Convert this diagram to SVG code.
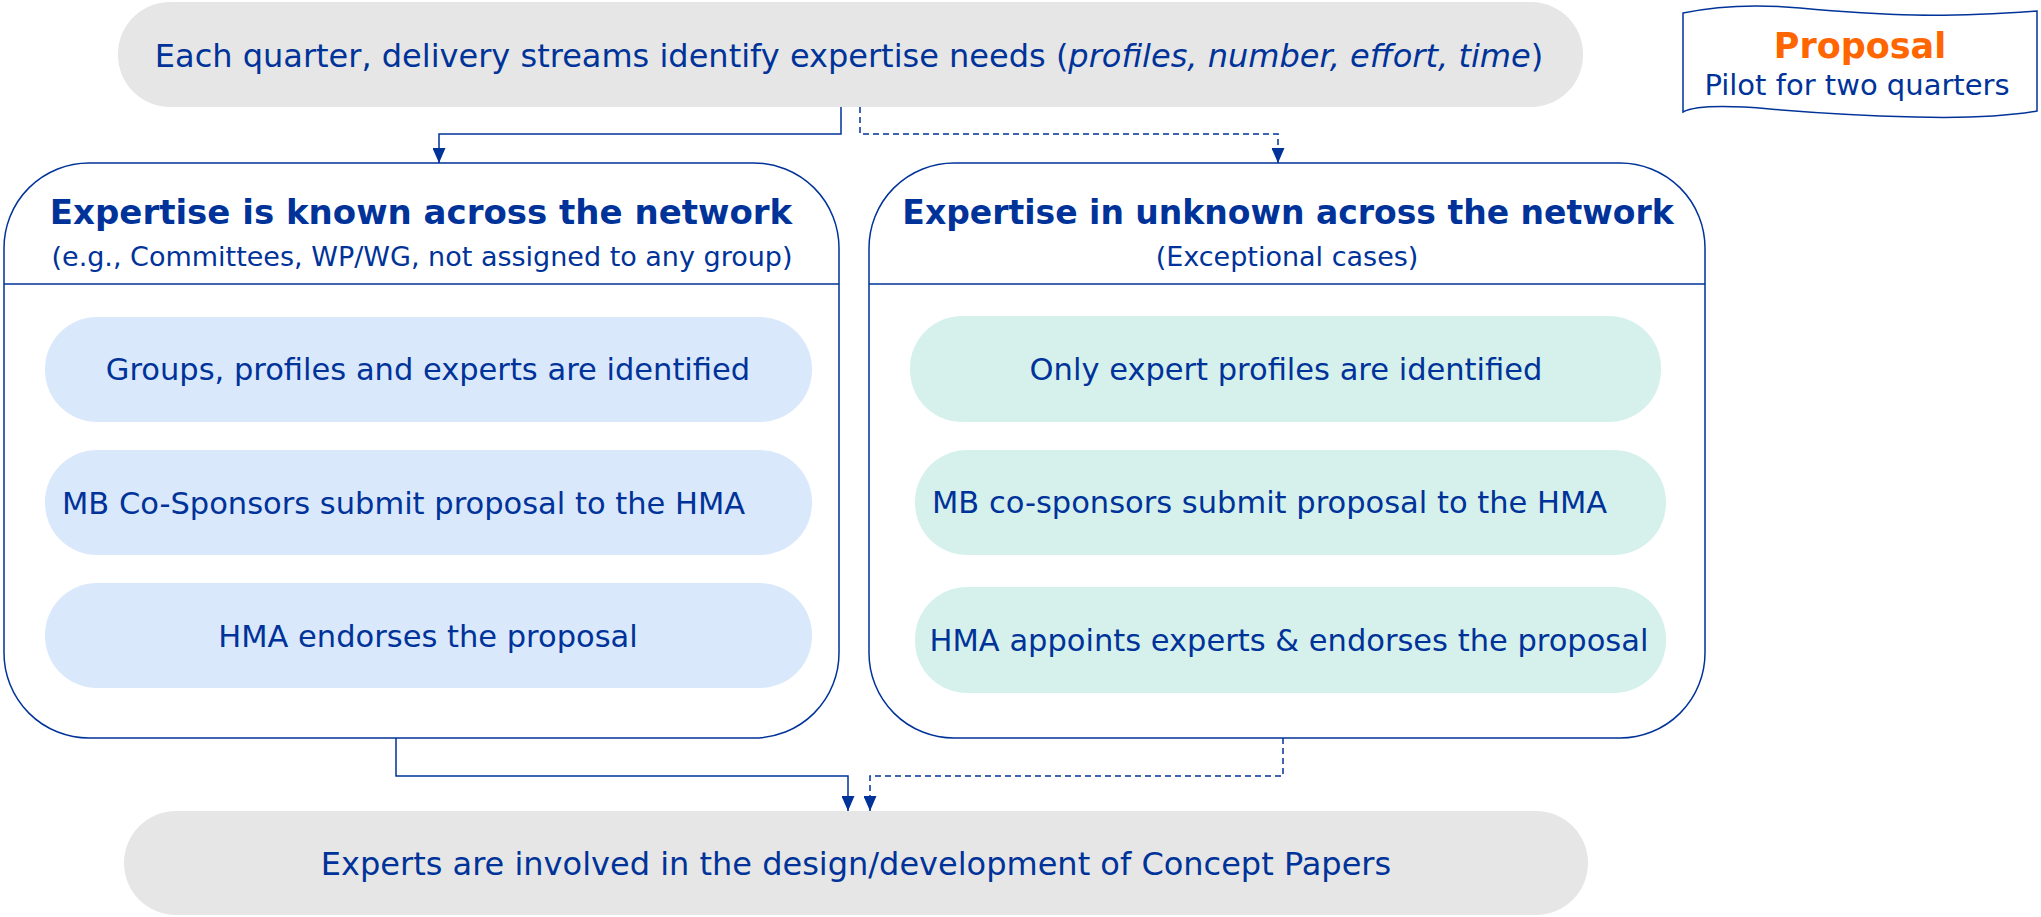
<svg xmlns="http://www.w3.org/2000/svg" width="2041" height="917" viewBox="0 0 2041 917">
<style>
text{font-family:"DejaVu Sans",Verdana,sans-serif;fill:#003399}
.t{font-size:32px}
.p{font-size:30.5px}
.h{font-size:33px;font-weight:bold}
.s{font-size:27px}
.m{text-anchor:middle}
.grey{fill:#E6E6E6}
.blue{fill:#DAE8FC}
.green{fill:#D6F1EC}
.box{fill:#fff;stroke:#003399;stroke-width:1.5}
.c{fill:none;stroke:#003399;stroke-width:1.5}
.d{stroke-dasharray:6 4}
</style>
<defs>
<marker id="arr" markerUnits="userSpaceOnUse" viewBox="0 0 15 13" markerWidth="15" markerHeight="13" refX="15" refY="6.5" orient="auto">
<path d="M0,0 L15,6.5 L0,13 Z" fill="#003399"/>
</marker>
</defs>
<g id="connectors">
<path class="c" d="M841,107 V134 H439 V163" marker-end="url(#arr)"/>
<path class="c d" d="M860,107 V134 H1278 V163" marker-end="url(#arr)"/>
<path class="c" d="M396,738 V776 H848 V811" marker-end="url(#arr)"/>
<path class="c d" d="M1283,738 V776 H870 V811" marker-end="url(#arr)"/>
</g>
<g id="start">
<rect class="grey" x="118" y="2" width="1465" height="105" rx="52" ry="52"/>
<text class="t m" x="849" y="67">Each quarter, delivery streams identify expertise needs (<tspan font-style="italic">profiles, number, effort, time</tspan>)</text>
</g>
<g id="proposal">
<path d="M1683,13 Q1735,2 1800,8 T1915,15 T2037,11 L2037,111 Q1990,119 1915,117 T1770,109 T1683,112 Z" fill="#fff" stroke="#003399" stroke-width="1.5"/>
<text class="m" x="1860" y="58" style="font-size:35px;font-weight:bold;fill:#FF6600">Proposal</text>
<text class="m" x="1857" y="95" style="font-size:29px">Pilot for two quarters</text>
</g>
<g id="known">
<rect class="box" x="4" y="163" width="835" height="575" rx="85" ry="85"/>
<line x1="4" y1="284" x2="839" y2="284" stroke="#003399" stroke-width="1.5"/>
<text class="h m" x="421" y="224" style="font-size:34px">Expertise is known across the network</text>
<text class="s m" x="422" y="266">(e.g., Committees, WP/WG, not assigned to any group)</text>
</g>
<g id="known-1">
<rect class="blue" x="45" y="317" width="767" height="105" rx="52" ry="52"/>
<text class="p m" x="428" y="380">Groups, profiles and experts are identified</text>
</g>
<g id="known-2">
<rect class="blue" x="45" y="450" width="767" height="105" rx="52" ry="52"/>
<text class="p" x="62" y="514">MB Co-Sponsors submit proposal to the HMA</text>
</g>
<g id="known-3">
<rect class="blue" x="45" y="583" width="767" height="105" rx="52" ry="52"/>
<text class="p m" x="428" y="647">HMA endorses the proposal</text>
</g>
<g id="unknown">
<rect class="box" x="869" y="163" width="836" height="575" rx="85" ry="85"/>
<line x1="869" y1="284" x2="1705" y2="284" stroke="#003399" stroke-width="1.5"/>
<text class="h m" x="1288" y="224">Expertise in unknown across the network</text>
<text class="s m" x="1287" y="266">(Exceptional cases)</text>
</g>
<g id="unknown-1">
<rect class="green" x="910" y="316" width="751" height="106" rx="52" ry="52"/>
<text class="p m" x="1286" y="380">Only expert profiles are identified</text>
</g>
<g id="unknown-2">
<rect class="green" x="915" y="450" width="751" height="105" rx="52" ry="52"/>
<text class="p" x="932" y="513">MB co-sponsors submit proposal to the HMA</text>
</g>
<g id="unknown-3">
<rect class="green" x="915" y="587" width="751" height="106" rx="52" ry="52"/>
<text class="p m" x="1289" y="651">HMA appoints experts &amp; endorses the proposal</text>
</g>
<g id="end">
<rect class="grey" x="124" y="811" width="1464" height="104" rx="52" ry="52"/>
<text class="t m" x="856" y="875">Experts are involved in the design/development of Concept Papers</text>
</g>
</svg>
